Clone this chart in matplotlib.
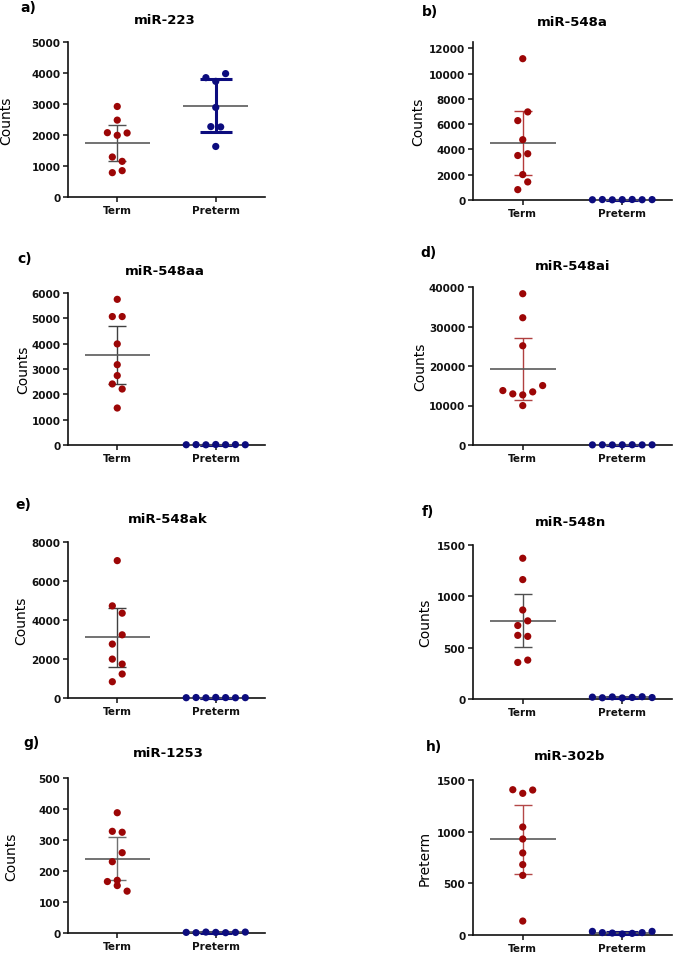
import numpy as np
import matplotlib
matplotlib.use('Agg')
import matplotlib.pyplot as plt

# data (counts per sample)
groups = ['Term', 'Preterm']
panel_labels = ['a)', 'b)', 'c)', 'd)', 'e)', 'f)', 'g)', 'h)']
mirnas = ['miR-223', 'miR-548a', 'miR-548aa', 'miR-548ai',
          'miR-548ak', 'miR-548n', 'miR-1253', 'miR-302b']
ylabels = ['Counts'] * 7 + ['Preterm']

term_223 = [2920, 2480, 2075, 1990, 2065, 1290, 1150, 785, 850]
pre_223 = [3850, 3730, 3980, 2890, 2270, 2260, 1630]
term_548a = [11180, 6280, 6970, 4770, 3520, 3660, 2010, 820, 1430]
pre_548a = [20, 35, 15, 28, 40, 22, 30]
term_548aa = [5750, 5070, 5070, 3990, 3170, 2740, 2410, 2210, 1460]
pre_548aa = [10, 15, 8, 20, 12, 18, 10]
term_548ai = [38300, 32220, 25120, 13780, 12940, 12680, 13450, 15050, 9980]
pre_548ai = [30, 50, 20, 45, 60, 25, 40]
term_548ak = [7045, 4725, 4350, 2765, 3240, 1995, 1740, 835, 1230]
pre_548ak = [15, 25, 10, 30, 20, 12, 18]
term_548n = [1371, 1163, 867, 716, 761, 620, 610, 356, 379]
pre_548n = [18, 12, 20, 10, 15, 22, 14]
term_1253 = [388, 328, 325, 230, 259, 166, 170, 153, 135]
pre_1253 = [2, 1, 3, 2, 1, 2, 3]
term_302b = [1406, 1371, 1403, 1045, 929, 794, 681, 577, 135]
pre_302b = [35, 23, 19, 10, 16, 23, 35]

term_data = [term_223, term_548a, term_548aa, term_548ai,
             term_548ak, term_548n, term_1253, term_302b]
pre_data = [pre_223, pre_548a, pre_548aa, pre_548ai,
            pre_548ak, pre_548n, pre_1253, pre_302b]

yticks = [np.arange(0, 5001, 1000), np.arange(0, 12001, 2000),
          np.arange(0, 6001, 1000), np.arange(0, 40001, 10000),
          np.arange(0, 8001, 2000), np.arange(0, 1501, 500),
          np.arange(0, 501, 100), np.arange(0, 1501, 500)]
ytops = [5000, 12500, 6000, 40000, 8000, 1500, 500, 1500]

# t critical values (two sided 95%) for n-1 dof
T_CRIT = {7: 2.447, 9: 2.306}

# layout, in pixels of the 675x954 image
W, H = 675, 954
cols = [(68, 197), (473, 199)]
rows_px = [(43, 198), (43, 201), (294, 446), (288, 446),
           (543, 699), (546, 700), (779, 934), (781, 936)]
title_px = [(165, 21), (572, 22), (165, 272), (573, 266),
            (168, 520), (570, 522), (168, 754), (570, 757)]
letter_px = [(28, 8), (430, 12), (25, 259), (428, 253),
             (23, 505), (428, 512), (32, 743), (434, 747)]
ylabel_x = [8, 420, 25, 422, 23, 427, 13, 427]

red = '#9c0606'
navy = '#0c0c7e'
mean_col = '#5a5a5a'
term_err_cols = ['#505050', '#b53a3a', '#404040', '#b04040',
                 '#404040', '#505050', '#707070', '#b44848']

plt.rcParams['font.family'] = ['DejaVu Sans']


def swarm_offsets(ax, vals, step=0.1, gap_px=10.1):
    vals = np.asarray(vals, dtype=float)
    ypix = ax.transData.transform(np.column_stack([np.zeros(len(vals)), vals]))[:, 1]
    order = np.argsort(vals, kind='stable')
    groups_ = []
    cur = [order[0]]
    start = ypix[order[0]]
    for i in order[1:]:
        if ypix[i] - start < gap_px:
            cur.append(i)
        else:
            groups_.append(cur)
            cur = [i]
            start = ypix[i]
    groups_.append(cur)
    offs = np.zeros(len(vals))
    for g in groups_:
        g = sorted(g)
        for k, i in enumerate(g):
            offs[i] = (k - (len(g) - 1) / 2) * step
    return offs


def mean_ci(vals):
    v = np.asarray(vals, dtype=float)
    m = v.mean()
    half = T_CRIT[len(v)] * v.std(ddof=1) / np.sqrt(len(v))
    return m, m - half, m + half


fig = plt.figure(figsize=(W / 100, H / 100), dpi=100)

for p in range(8):
    x0, w = cols[p % 2]
    top, bot = rows_px[p]
    ax = fig.add_axes([x0 / W, 1 - bot / H, w / W, (bot - top) / H])
    ax.set_xlim(-0.5, 1.5)
    ax.set_ylim(0, ytops[p])

    # group 0 = Term, group 1 = Preterm
    for gi, vals in enumerate([term_data[p], pre_data[p]]):
        offs = swarm_offsets(ax, vals)
        m, lo, hi = mean_ci(vals)
        if gi == 0:
            ecol, elw, cap = term_err_cols[p], 1.0, 0.09
            dcol = red
        else:
            ecol, elw, cap = navy, 2.2, 0.16
            dcol = navy
        ax.vlines(gi, lo, hi, color=ecol, lw=elw, zorder=3, clip_on=False)
        ax.hlines([lo, hi], gi - cap, gi + cap, color=ecol, lw=elw, zorder=3, clip_on=False)
        ax.hlines(m, gi - 0.33, gi + 0.33, color=mean_col, lw=1.2, zorder=3, clip_on=False)
        ax.scatter(gi + offs, vals, s=27, color=dcol, edgecolors='none', zorder=5, clip_on=False)

    for s in ['top', 'right']:
        ax.spines[s].set_visible(False)
    for s in ['left', 'bottom']:
        ax.spines[s].set_linewidth(1.2)
        ax.spines[s].set_color('#111111')
    ax.set_yticks(yticks[p])
    ax.set_yticklabels([str(int(t)) for t in yticks[p]], fontsize=7.5, fontweight='bold')
    ax.set_xticks([0, 1])
    ax.set_xticklabels(groups, fontsize=7.5, fontweight='bold')
    ax.tick_params(axis='both', direction='out', length=3.5, width=1.1, pad=2, colors='#111111')

    ax.set_ylabel(ylabels[p], fontsize=10)
    ax.yaxis.set_label_coords((ylabel_x[p] + 5 - x0) / w, 0.5)

    tx, ty = title_px[p]
    fig.text(tx / W, 1 - ty / H, mirnas[p], ha='center', va='center',
             fontsize=9.5, fontweight='bold')
    lx, ly = letter_px[p]
    fig.text(lx / W, 1 - ly / H, panel_labels[p], ha='center', va='center',
             fontsize=10, fontweight='bold')

fig.savefig('out.png', dpi=100)
